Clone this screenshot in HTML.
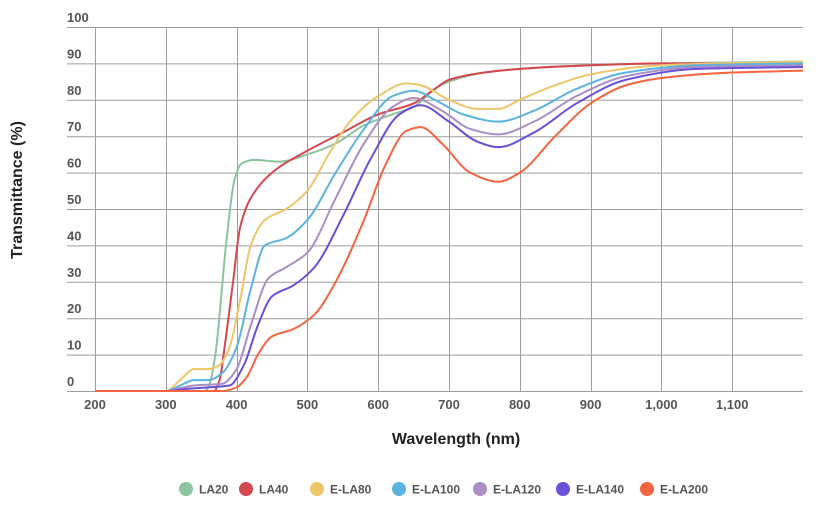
<!DOCTYPE html>
<html><head><meta charset="utf-8"><style>
body{margin:0;background:#fff;}
svg{display:block;font-family:"Liberation Sans",Arial,sans-serif;}
</style></head><body>
<svg id="c" width="835" height="510" xmlns="http://www.w3.org/2000/svg">
<g id="grid" stroke="#9e9e9e" stroke-width="1"></g>
<g id="lab" fill="#555" font-size="13" font-weight="bold"></g>
<g id="ser" fill="none" stroke-width="2"></g>
<text x="22" y="190" transform="rotate(-90 22 190)" text-anchor="middle" font-size="16" font-weight="bold" fill="#222">Transmittance (%)</text>
<text x="456" y="444" text-anchor="middle" font-size="16" font-weight="bold" fill="#222">Wavelength (nm)</text>
<g id="leg" font-size="12" font-weight="bold" fill="#555"></g>
</svg>
<script>
const NS="http://www.w3.org/2000/svg";
function X(w){return 95+(w-200)*0.708;}
function Y(t){return 391-t*3.64;}
function el(p,t,a,txt){const e=document.createElementNS(NS,t);for(const k in a)e.setAttribute(k,a[k]);if(txt!==undefined)e.textContent=txt;document.getElementById(p).appendChild(e);}
for(let i=0;i<=10;i++){const y=Y(i*10);el('grid','line',{x1:67,x2:803,y1:y+0.5,y2:y+0.5});el('lab','text',{x:67,y:y-5},String(i*10));}
for(let w=200;w<=1100;w+=100){const x=Math.round(X(w))+0.5;el('grid','line',{x1:x,x2:x,y1:Y(100),y2:Y(0)});el('lab','text',{x:X(w),y:409,'text-anchor':'middle'},w>=1000?('1,'+String(w-1000).padStart(3,'0')):String(w));}
const S=[
["LA20","#8cc3a0",[[200,0],[355,0],[362,2],[370,10],[385,40],[397,58],[407,62.5],[425,63.5],[460,63],[500,65],[540,68],[580,73],[620,76],[650,78],[680,83],[700,85],[750,87.5],[800,88.5],[900,89.5],[1000,90],[1200,90.5]]],
["LA40","#d4474f",[[200,0],[368,0],[376,3],[383,12],[395,30],[405,45],[420,53],[450,60],[500,66],[550,71],[600,76],[650,79],[680,83],[700,85.5],[750,87.5],[800,88.5],[900,89.5],[1000,90],[1200,90]]],
["E-LA80","#eec66a",[[200,0],[300,0],[320,3],[340,6],[360,6],[375,7],[390,12],[405,25],[420,40],[440,47],[470,50],[500,55],[530,65],[560,74],[600,81],[640,84.5],[660,84],[700,80],[740,77.5],[770,77.5],[800,80],[850,84],[900,87],[1000,89.5],[1200,90.5]]],
["E-LA100","#5ab3e0",[[200,0],[300,0],[320,1.5],[340,3],[360,3],[380,5],[400,12],[420,28],[440,40],[470,42],[500,47],[540,60],[580,72],[620,81],[650,82.5],[680,80],[720,76],[770,74],[820,77],[880,83],[950,87.5],[1050,89.5],[1200,90]]],
["E-LA120","#a98fc6",[[200,0],[300,0],[320,0.8],[340,1.5],[380,2],[400,6],[420,18],[445,31],[470,34],[500,38],[540,53],[580,68],[620,78],[650,80.5],[690,77],[730,72],[770,70.5],[820,74],[880,81],[950,86.5],[1050,89],[1200,89.5]]],
["E-LA140","#6a4fd8",[[200,0],[300,0],[330,0.6],[360,1],[390,1.5],[410,7],[430,18],[450,26],[480,29],[510,34],[550,48],[590,64],[630,76],[660,78.5],[700,74],[740,68.5],[770,67],[820,71],[880,79],[950,85.5],[1050,88.5],[1200,89]]],
["E-LA200","#f4643e",[[200,0],[380,0],[400,1],[415,4],[430,10],[450,15],[480,17],[510,21],[540,30],[580,47],[610,62],[640,71.5],[660,72.5],[690,68],[730,60],[770,57.5],[800,60],[850,70],[900,79],[950,84],[1000,86],[1100,87.5],[1200,88]]]
];
function path(pts){
  const n=pts.length,x=pts.map(a=>a[0]),y=pts.map(a=>a[1]);
  const d=[],m=new Array(n);
  for(let i=0;i<n-1;i++)d.push((y[i+1]-y[i])/(x[i+1]-x[i]));
  m[0]=d[0];m[n-1]=d[n-2];
  for(let i=1;i<n-1;i++){ if(d[i-1]*d[i]<=0)m[i]=0; else { const w1=2*(x[i+1]-x[i])+(x[i]-x[i-1]),w2=(x[i+1]-x[i])+2*(x[i]-x[i-1]); m[i]=(w1+w2)/(w1/d[i-1]+w2/d[i]); } }
  let s="M"+X(x[0])+","+Y(y[0]);
  for(let i=0;i<n-1;i++){const h=x[i+1]-x[i];
    s+=` C${X(x[i]+h/3)},${Y(y[i]+m[i]*h/3)} ${X(x[i+1]-h/3)},${Y(y[i+1]-m[i+1]*h/3)} ${X(x[i+1])},${Y(y[i+1])}`;}
  return s;}
S.forEach(s=>el('ser','path',{d:path(s[2]),stroke:s[1]}));
const lx=[186,246,317,399,480,563,647];
S.forEach((s,i)=>{el('leg','circle',{cx:lx[i],cy:489,r:7,fill:s[1]});el('leg','text',{x:lx[i]+13,y:493.5},s[0]);});
</script>
</body></html>
